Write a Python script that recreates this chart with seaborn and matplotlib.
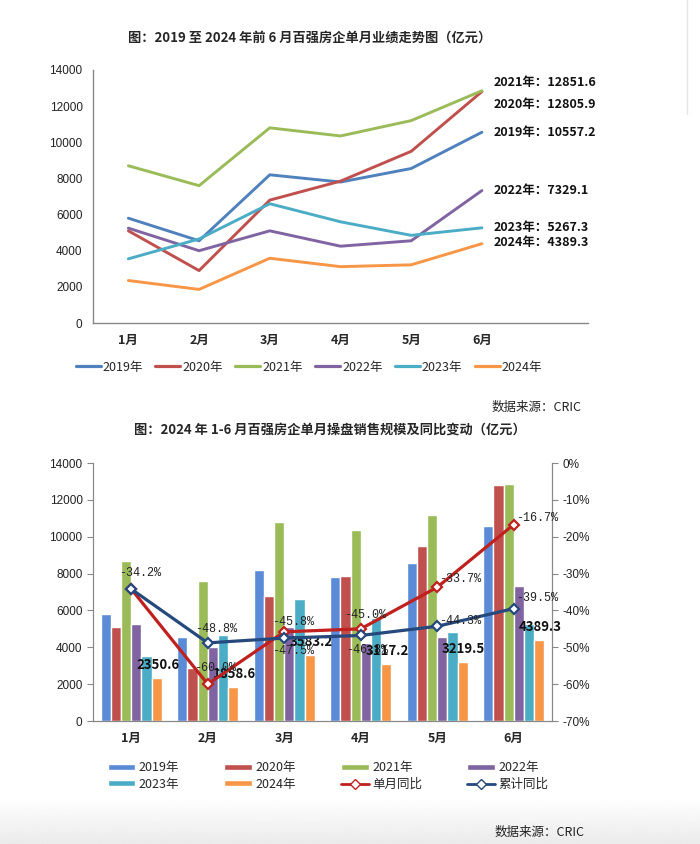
import numpy as np
import pandas as pd
import matplotlib
matplotlib.use("Agg")
import matplotlib.pyplot as plt
from matplotlib.lines import Line2D
from matplotlib.patches import Patch
import seaborn as sns

months = ["1月", "2月", "3月", "4月", "5月", "6月"]
years = ["2019年", "2020年", "2021年", "2022年", "2023年", "2024年"]
sales_2019 = [5800, 4550, 8200, 7800, 8550, 10557.2]
sales_2020 = [5100, 2900, 6800, 7850, 9500, 12805.9]
sales_2021 = [8700, 7600, 10800, 10350, 11200, 12851.6]
sales_2022 = [5250, 4000, 5100, 4250, 4550, 7329.1]
sales_2023 = [3550, 4650, 6600, 5600, 4850, 5267.3]
sales_2024 = [2350.6, 1858.6, 3583.2, 3117.2, 3219.5, 4389.3]
single_yoy = [-34.2, -60.0, -45.8, -45.0, -33.7, -16.7]
cum_yoy = [-34.2, -48.8, -47.5, -46.8, -44.3, -39.5]

line_colors = ["#4F81BD", "#C0504D", "#9BBB59", "#8064A2", "#4BACC6", "#F79646"]
bar_colors = ["#5B8AD6", "#C0504D", "#9BBB59", "#8064A2", "#4BACC6", "#F79646"]
red_line = "#C0201E"
navy_line = "#25497C"

all_sales = [sales_2019, sales_2020, sales_2021, sales_2022, sales_2023, sales_2024]
df = pd.DataFrame({
    "month": np.tile(months, len(years)),
    "idx": np.tile(np.arange(len(months)), len(years)),
    "year": np.repeat(years, len(months)),
    "sales": np.concatenate(all_sales),
})

sns.set_style("white")
plt.rcParams["font.family"] = ["Liberation Sans", "Noto Sans CJK SC"]
cjk = ["Noto Sans CJK SC", "DejaVu Sans"]
mono = ["Liberation Mono", "Noto Sans CJK SC"]
W, H = 700, 844
fig = plt.figure(figsize=(7, 8.44), dpi=100)
fig.patch.set_facecolor("white")

def fx(px):
    return px / W

def fy(py):
    return 1 - py / H

# ---------------- top chart ----------------
ax1 = fig.add_axes([fx(93), fy(323), fx(588 - 93), (323 - 70) / H])
sns.lineplot(data=df, x="idx", y="sales", hue="year", palette=line_colors,
             linewidth=2.1, ax=ax1, legend=False)
ax1.set_xlim(-0.5, 6.5)
ax1.set_ylim(0, 14000)
ax1.set_yticks(range(0, 14001, 2000))
ax1.set_xticks(range(len(months)))
ax1.set_xticklabels(months, fontweight="bold", fontsize=9, family=cjk)
ax1.set_xticks(np.arange(-0.5, 7, 1), minor=True)
ax1.tick_params(axis="x", which="major", length=0, pad=8)
ax1.tick_params(axis="x", which="minor", length=4, color="#888888", direction="out")
ax1.tick_params(axis="y", length=4, color="#888888", labelsize=8.5, labelcolor="#222222")
ax1.set_xlabel("")
ax1.set_ylabel("")
for s in ["top", "right"]:
    ax1.spines[s].set_visible(False)
for s in ["left", "bottom"]:
    ax1.spines[s].set_color("#888888")
    ax1.spines[s].set_linewidth(1)

end_offsets = [0, -13, 8, 0, 0, 1]
for yr, vals, off in zip(years, all_sales, end_offsets):
    ax1.annotate(f"{yr}：{vals[-1]:.1f}", xy=(len(months) - 1, vals[-1]),
                 xytext=(12, off), textcoords="offset pixels", va="center",
                 ha="left", fontsize=9, fontweight="bold", family=cjk,
                 color="#111111")

handles1 = [Line2D([0], [0], color=c, lw=2.3) for c in line_colors]
fig.legend(handles1, years, loc="center", bbox_to_anchor=(fx(309), fy(367)),
           ncol=6, frameon=False, handlelength=2.0,
           columnspacing=1.0, handletextpad=0.15, prop={"family": cjk, "size": 9})

fig.text(fx(310), fy(38), "图：2019 至 2024 年前 6 月百强房企单月业绩走势图（亿元）",
         ha="center", va="center", fontsize=9.5, fontweight="bold", family=cjk)
fig.text(fx(582), fy(407), "数据来源：CRIC", ha="right", va="center",
         fontsize=9, family=cjk, color="#222222")
fig.text(fx(330), fy(430), "图：2024 年 1-6 月百强房企单月操盘销售规模及同比变动（亿元）",
         ha="center", va="center", fontsize=9.5, fontweight="bold", family=cjk)

# ---------------- bottom chart ----------------
ax2 = fig.add_axes([fx(93), fy(721), fx(552 - 93), (721 - 463) / H])
sns.barplot(data=df, x="month", y="sales", hue="year", palette=bar_colors,
            width=0.8, gap=0, ax=ax2, legend=False, saturation=1)
ax2.set_xlim(-0.5, 5.5)
ax2.set_ylim(0, 14000)
ax2.set_yticks(range(0, 14001, 2000))
ax2.set_xticks(range(len(months)))
ax2.set_xticklabels(months, fontweight="bold", fontsize=9, family=cjk)
ax2.set_xticks(np.arange(-0.5, 6, 1), minor=True)
ax2.tick_params(axis="x", which="major", length=0, pad=8)
ax2.tick_params(axis="x", which="minor", length=4, color="#888888", direction="out")
ax2.tick_params(axis="y", length=4, color="#888888", labelsize=8.5, labelcolor="#222222")
ax2.set_xlabel("")
ax2.set_ylabel("")
ax2.spines["top"].set_visible(False)
for s in ["left", "bottom", "right"]:
    ax2.spines[s].set_color("#888888")

bar_w = 0.8 / len(years)
x2024 = np.arange(len(months)) - 0.4 + bar_w * 5.5
for x, v in zip(x2024, sales_2024):
    ax2.annotate(f"{v:.1f}", xy=(x, v), xytext=(1, 13), textcoords="offset pixels",
                 ha="center", va="center", fontsize=9.5, fontweight="bold",
                 family=cjk, color="#111111")

ax3 = ax2.twinx()
yoy = pd.DataFrame({
    "idx": np.tile(np.arange(len(months)), 2),
    "kind": np.repeat(["单月同比", "累计同比"], len(months)),
    "pct": single_yoy + cum_yoy,
})
sns.lineplot(data=yoy, x="idx", y="pct", hue="kind", palette=[red_line, navy_line],
             linewidth=2.3, marker="D", markersize=5.5, markerfacecolor="white",
             markeredgewidth=1.6, ax=ax3, legend=False)
for line, c in zip(ax3.lines, [red_line, navy_line]):
    line.set_markeredgecolor(c)
ax3.set_xlim(-0.5, 5.5)
ax3.set_ylim(-70, 0)
ax3.set_yticks(range(-70, 1, 10))
ax3.set_yticklabels([f"{t}%" for t in range(-70, 1, 10)])
ax3.tick_params(axis="y", length=4, color="#888888", labelsize=8.5, labelcolor="#222222")
ax3.set_ylabel("")
ax3.set_xlabel("")
ax3.spines["top"].set_visible(False)
for s in ["left", "bottom", "right"]:
    ax3.spines[s].set_color("#888888")

single_offsets = [(9, 16), (7, 16), (9, 10), (4, 14), (23, 8), (23, 7)]
cum_offsets = [(9, 16), (8, 14), (9, -13), (6, -15), (23, 5), (23, 11)]
for i, (v, off) in enumerate(zip(single_yoy, single_offsets)):
    if i == 0:
        continue
    ax3.annotate(f"{v:.1f}%", xy=(i, v), xytext=off, textcoords="offset pixels",
                 ha="center", va="center", fontsize=8.5, family=mono, color="#222222")
for i, (v, off) in enumerate(zip(cum_yoy, cum_offsets)):
    ax3.annotate(f"{v:.1f}%", xy=(i, v), xytext=off, textcoords="offset pixels",
                 ha="center", va="center", fontsize=8.5, family=mono, color="#222222")

bar_handles = [Patch(facecolor=c) for c in bar_colors]
line_handles = [Line2D([0], [0], color=red_line, lw=2, marker="D", markersize=5,
                       markerfacecolor="white", markeredgecolor=red_line),
                Line2D([0], [0], color=navy_line, lw=2, marker="D", markersize=5,
                       markerfacecolor="white", markeredgecolor=navy_line)]
handles2 = bar_handles + line_handles
labels2 = years + ["单月同比", "累计同比"]
order = [0, 4, 1, 5, 2, 6, 3, 7]
fig.legend([handles2[i] for i in order], [labels2[i] for i in order], loc="center",
           bbox_to_anchor=(fx(328), fy(776)), ncol=4, frameon=False,
           handlelength=2.2, handleheight=0.45, columnspacing=3.6,
           handletextpad=0.3, labelspacing=0.25, prop={"family": cjk, "size": 9})

# bottom gray band
band = fig.add_axes([0, 0, 1, 46 / H], zorder=-1)
grad = np.linspace(1.0, 0.92, 64).reshape(-1, 1)
band.imshow(grad, aspect="auto", cmap="gray", vmin=0, vmax=1,
            extent=[0, 1, 0, 1], origin="upper")
band.set_axis_off()
fig.text(fx(585), fy(832), "数据来源：CRIC", ha="right", va="center",
         fontsize=9, family=cjk, color="#222222")

fig.add_artist(Line2D([fx(687), fx(687)], [fy(0), fy(114)], color="#e6e6e6", lw=1))

fig.savefig("out.png", dpi=100)
